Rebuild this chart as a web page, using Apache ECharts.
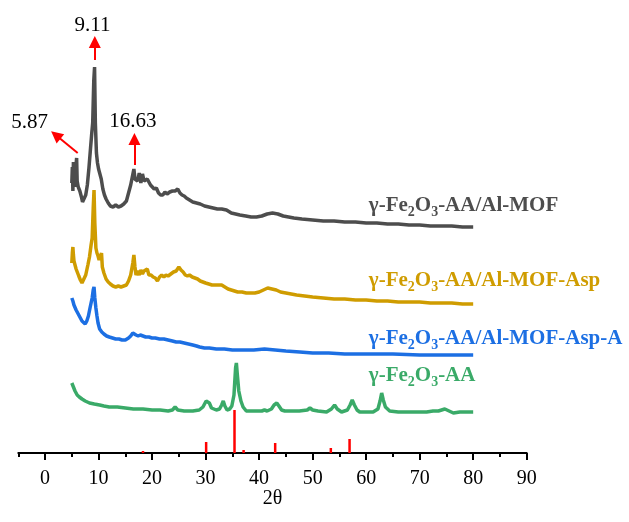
<!DOCTYPE html>
<html>
<head>
<meta charset="utf-8">
<script src="https://cdn.jsdelivr.net/npm/echarts@6/dist/echarts.min.js"></script>
<style>html,body{margin:0;padding:0;background:#fff}#c{width:629px;height:522px}</style>
</head>
<body>
<div id="c"></div>
<script>
// x tick values
var xMajorTicks = [0,10,20,30,40,50,60,70,80,90];
var xMinorTicks = [-5,5,15,25,35,45,55,65,75,85];

// γ-Fe2O3-AA/Al-MOF (2θ, offset intensity)
var mofX = [5.0,5.1,5.2,5.3,5.4,5.5,5.6,5.7,5.9,6.0,6.2,6.5,6.8,7.0,7.3,7.6,7.9,8.2,8.5,8.7,8.9,9.1,9.25,9.4,9.6,9.8,10.0,10.2,10.5,10.8,11.1,11.4,11.8,12.2,12.7,13.2,13.7,14.2,14.7,15.2,15.6,16.0,16.3,16.6,16.8,17.0,17.3,17.6,17.9,18.2,18.5,18.8,19.1,19.4,19.7,20.0,20.4,20.8,21.2,21.6,22.0,22.4,22.8,23.3,23.8,24.3,24.8,25.2,25.6,26.0,26.4,27.0,27.6,28.3,29.0,29.8,30.6,31.4,32.2,33.0,33.9,34.8,35.6,36.4,37.5,38.5,39.5,40.5,41.5,42.5,43.5,44.5,45.5,46.5,48,50,52,54,56,58,60,62,64,66,68,70,72,74,76,78,80];
var mofY = [270,286,262,291,270,280,266,282,295,272,266,262,256,251,253,258,268,285,305,318,330,372,386,330,300,290,284,280,274,264,258,254,250,247,246,248,246,247,249,252,260,268,276,284,274,276,272,280,270,279,272,270,274,275,268,268,264,265,260,258,258,261,259,261,262,262,264,260,258,257,255,253,251,250,249,247,246,245,244,244,243,240,239,238,237,236,236,237,239,240,239,237,236,235,234,233,232,232,231,231,230,230,229,229,228,228,227,227,227,226,226];

// γ-Fe2O3-AA/Al-MOF-Asp
var aspX = [5.0,5.1,5.2,5.3,5.4,5.6,5.8,6.0,6.3,6.6,6.9,7.2,7.6,8.0,8.3,8.6,8.8,9.0,9.15,9.3,9.5,9.7,9.9,10.1,10.4,10.55,10.7,11.0,11.4,11.8,12.2,12.7,13.2,13.7,14.2,14.7,15.2,15.6,16.0,16.4,16.6,16.8,17.0,17.3,17.6,17.9,18.2,18.5,18.8,19.1,19.4,19.8,20.2,20.6,21.0,21.4,21.8,22.2,22.6,23.0,23.5,24.0,24.5,25.0,25.4,25.8,26.2,26.6,27.0,27.5,28.0,28.5,29.0,29.5,30.0,30.6,31.2,31.8,32.4,33.0,33.6,34.2,34.8,35.4,36.0,36.8,37.6,38.4,39.2,40.0,40.8,41.6,42.4,43.2,44.0,45.0,46.0,47.0,48.5,50,52,54,56,58,60,62,64,66,68,70,72,74,76,78,80];
var aspY = [190,200,206,198,192,188,184,182,177,173,170,172,178,188,196,208,215,245,263,230,205,200,197,193,192,200,186,180,174,171,169,167,166,167,166,167,168,172,178,190,198,186,178,182,178,183,179,182,180,184,178,178,176,175,172,176,178,176,178,177,179,181,182,186,183,181,178,177,178,176,175,174,172,171,170,169,168,168,168,168,166,164,163,162,161,161,160,160,160,161,163,165,164,163,161,160,159,158,157,156,155,154,154,153,153,152,152,151,151,151,150,150,150,149,149];

// γ-Fe2O3-AA/Al-MOF-Asp-A
var aspAX = [5.0,5.2,5.4,5.6,5.8,6.0,6.3,6.6,6.9,7.2,7.5,7.8,8.1,8.4,8.6,8.8,9.0,9.15,9.3,9.5,9.7,9.9,10.2,10.6,11.0,11.5,12.0,12.6,13.2,13.8,14.4,15.0,15.6,16.0,16.4,16.7,17.0,17.4,17.8,18.3,18.8,19.4,20.0,20.6,21.4,22.2,23.0,23.8,24.5,25.2,26.0,26.8,27.6,28.3,28.9,29.8,30.7,32.0,33.5,35.0,37.0,39.0,41.0,43.0,45.0,47.6,50,53,56,60,65,70,75,80];
var aspAY = [155,152,148,146,143,142,138,135,132,130,129,132,137,145,150,155,163,166,155,145,137,130,124,121,119,117,116,115,114,114,113,113,115,117,120,121,118,117,118,117,116,116,115,115,114,114,113,112,111,111,110,109,108,107,106,105,105,104,104,103,103,103,104,103,102,101,100,100,99,99,99,98,98,98];

// γ-Fe2O3-AA
var aaX = [5.0,5.3,5.6,6.0,6.4,6.9,7.5,8.3,9.2,10.2,11.0,12.0,13.5,15.0,16.5,18.3,20.0,21.5,23.0,23.8,24.3,24.8,26.0,27.6,28.8,29.5,30.1,30.4,30.7,31.1,31.4,32.0,32.6,33.0,33.3,33.6,34.0,34.5,34.9,35.3,35.6,35.75,35.9,36.2,36.6,37.0,37.6,38.5,39.5,40.5,41.0,41.5,42.3,42.8,43.3,43.7,44.2,44.8,46,47.5,49.0,49.5,50.0,51,52.6,53.5,54.1,54.6,55.4,56.5,57.0,57.4,57.8,58.3,58.8,60.0,61.3,62.2,62.6,62.9,63.2,63.6,64.4,66,68,70,71.3,72.5,73.5,74.7,75.5,76.3,77.5,79.4,80];
var aaY = [70,66,62,58,56,54,52,50,49,48,47,46,46,45,44,44,43,43,42,43,46,43,42,42,43,46,52,54,50,45,43,43,44,48,52,47,43,44,47,58,85,90,80,62,52,46,42,42,42,42,43,42,44,48,50,47,43,42,42,42,43,45,43,42,41,44,48,44,41,43,48,53,48,43,41,41,41,44,52,60,53,46,42,41,41,41,41,42,42,44,42,40,41,41,41];

// reference pattern (sticks)
var refX = [18.3,30.1,35.4,37.1,43.0,53.4,56.9];
var refY = [2,11,43,3,10,5,14];

var seriesNames = ['γ-Fe2O3-AA/Al-MOF','γ-Fe2O3-AA/Al-MOF-Asp','γ-Fe2O3-AA/Al-MOF-Asp-A','γ-Fe2O3-AA'];
var seriesColors = ['#4d4d4d','#cf9c00','#1c6fe3','#3aaa68'];
var labelPos = [[60.5,247],[60.5,172],[60.5,114],[60.5,77]];

function zip(a,b){ return a.map(function(v,i){ return [v,b[i]]; }); }
var FONT = 'Liberation Serif';

function richLabel(name, color){
  var rest = name.replace('γ-Fe2O3','');
  return {
    text: '{m|γ-Fe}{s|2}{m|O}{s|3}{m|' + rest + '}',
    rich: {
      m: {fontSize: 21, fontWeight: 'bold', fontFamily: FONT, color: color},
      s: {fontSize: 14, fontWeight: 'bold', fontFamily: FONT, color: color, padding: [13,0,0,0]}
    }
  };
}

var curves = [zip(mofX,mofY), zip(aspX,aspY), zip(aspAX,aspAY), zip(aaX,aaY)];
var series = curves.map(function(d, i){
  var rl = richLabel(seriesNames[i], seriesColors[i]);
  return {
    type: 'line', name: seriesNames[i], data: d, showSymbol: false, symbol: 'none',
    lineStyle: {color: seriesColors[i], width: 3.5}, z: 3,
    markPoint: {
      symbol: 'rect', symbolSize: 1, itemStyle: {color: 'rgba(0,0,0,0)'},
      label: {show: true, position: 'inside', align: 'left', verticalAlign: 'middle',
        formatter: rl.text, rich: rl.rich},
      data: [{coord: labelPos[i]}]
    }
  };
});

series.push({
  type: 'bar', name: 'ref', data: zip(refX, refY), barWidth: 2.5,
  itemStyle: {color: '#ff0000'}, z: 2
});

var annotText = ['9.11','16.63','5.87'];
var annotTextPos = [[8.85,428],[16.4,332],[-2.9,331]];
var arrowFrom = [[9.3,393],[16.7,288],[6.1,300]];
var arrowTo = [[9.3,411],[16.7,314],[2.0,318]];

series.push({
  type: 'line', name: 'annot', data: [], z: 5,
  itemStyle: {color: '#ff0000'},
  markLine: {
    silent: true, animation: false,
    symbol: ['none','triangle'], symbolSize: 12,
    itemStyle: {color: '#ff0000'},
    lineStyle: {color: '#ff0000', width: 2, type: 'solid'},
    label: {show: false},
    data: arrowFrom.map(function(f,i){ return [{coord: f}, {coord: arrowTo[i]}]; })
  },
  markPoint: {
    symbol: 'rect', symbolSize: 1, itemStyle: {color: 'rgba(0,0,0,0)'},
    label: {show: true, position: 'inside', color: '#000', fontSize: 21, fontFamily: FONT,
      formatter: function(p){ return p.name; }},
    data: annotText.map(function(t,i){ return {name: t, coord: annotTextPos[i]}; })
  }
});

var chart = echarts.init(document.getElementById('c'), null, {renderer: 'canvas'});
chart.setOption({
  animation: false,
  backgroundColor: '#ffffff',
  grid: {left: 18.3, right: 102.3, top: 0, bottom: 69, containLabel: false},
  xAxis: [{
    type: 'value', min: -5, max: 90, position: 'bottom',
    name: '2θ', nameLocation: 'middle', nameGap: 36, nameMoveOverlap: false,
    nameTextStyle: {fontSize: 20, fontFamily: FONT, color: '#000'},
    axisLine: {show: true, onZero: false, lineStyle: {color: '#000', width: 2}},
    axisTick: {show: true, length: 7, lineStyle: {color: '#000', width: 2}, customValues: xMajorTicks},
    axisLabel: {show: true, margin: 16, fontSize: 20, fontFamily: FONT, color: '#000', customValues: xMajorTicks},
    splitLine: {show: false}
  },{
    type: 'value', min: -5, max: 90, position: 'bottom',
    axisLine: {show: false},
    axisTick: {show: true, length: 4, lineStyle: {color: '#000', width: 2}, customValues: xMinorTicks},
    axisLabel: {show: false},
    splitLine: {show: false}
  }],
  yAxis: {type: 'value', min: 0, max: 453, show: false},
  series: series
});
</script>
</body>
</html>
